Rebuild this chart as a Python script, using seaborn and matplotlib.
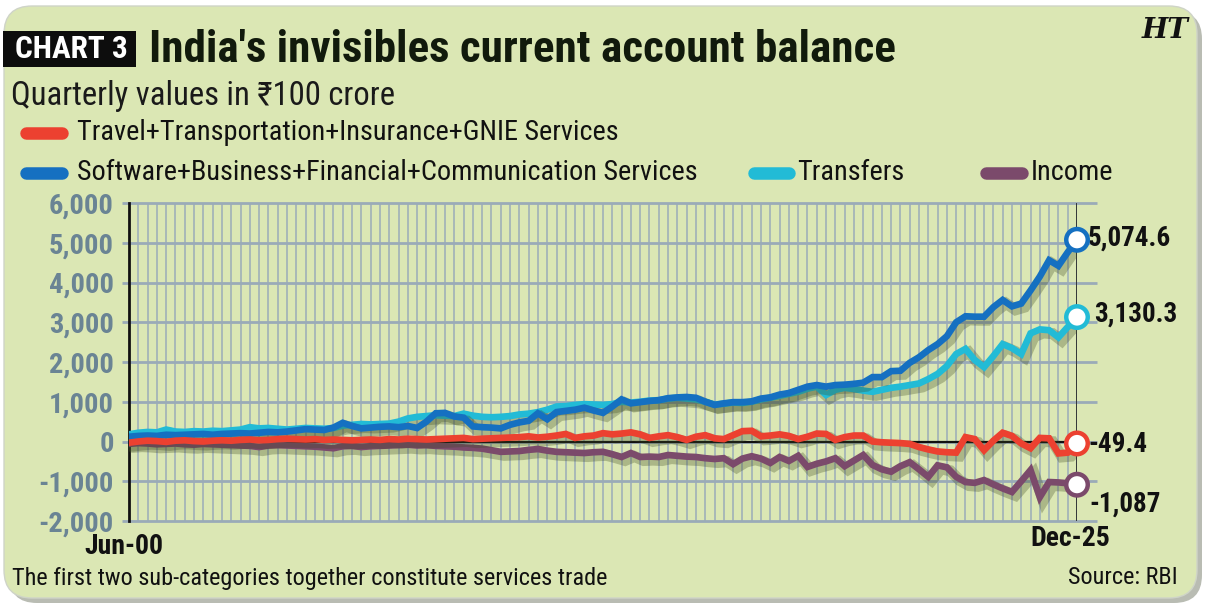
import numpy as np
import pandas as pd
import seaborn as sns
import matplotlib
matplotlib.use("Agg")
import matplotlib.pyplot as plt
from matplotlib import font_manager
from matplotlib import patheffects as pe
from matplotlib.patches import FancyBboxPatch, Rectangle
from matplotlib.lines import Line2D
from matplotlib.transforms import blended_transform_factory

# ---------------- data (₹100 crore, quarterly Jun-00 .. Dec-25) ----------------
quarters = [str(p) for p in pd.period_range("2000Q2", "2025Q4", freq="Q")]
first_label = "Jun-00"
last_label = "Dec-25"

travel = [-30, 0, 20, 10, -10, 20, 30, 10, 0, 20, 30, 20, 40, 50, 30, 40, 60, 70, 60, 50,
          60, 40, 50, 40, 30, 40, 50, 40, 60, 50, 70, 60, 50, 60, 70, 80, 90, 60, 70, 80,
          90, 100, 110, 130, 100, 120, 150, 190, 90, 130, 150, 210, 180, 200, 230, 180, 90, 130, 160, 110,
          40, 120, 160, 80, 60, 160, 260, 270, 130, 150, 180, 140, 60, 120, 200, 190, 40, 110, 150, 150,
          0, -20, -30, -40, -60, -140, -200, -250, -270, -280, 110, 60, -220, 20, 220, 140, -50, -170, 90, 80,
          -300, -280, -49.4]

software = [120, 140, 150, 140, 170, 160, 170, 180, 190, 170, 190, 200, 210, 200, 220, 240, 230, 250, 280, 310,
            300, 290, 350, 470, 390, 330, 350, 370, 380, 360, 390, 340, 500, 710, 720, 630, 600, 380, 360, 350,
            330, 420, 480, 520, 710, 560, 740, 770, 800, 850, 780, 720, 880, 1060, 960, 990, 1020, 1040, 1090, 1110,
            1120, 1100, 1000, 920, 960, 990, 990, 1010, 1080, 1110, 1180, 1220, 1300, 1380, 1420, 1380, 1420, 1430, 1450, 1480,
            1620, 1620, 1770, 1780, 1980, 2120, 2300, 2450, 2650, 3000, 3150, 3140, 3140, 3380, 3560, 3400, 3470, 3800, 4150, 4560,
            4420, 4760, 5074.6]

transfers = [180, 220, 240, 230, 300, 250, 240, 260, 250, 270, 260, 280, 300, 360, 330, 340, 320, 300, 320, 340,
             330, 320, 340, 400, 420, 440, 430, 440, 450, 500, 580, 620, 640, 660, 650, 640, 700, 650, 620, 610,
             620, 640, 680, 700, 740, 800, 880, 890, 920, 940, 930, 920, 940, 1000, 980, 1000, 1030, 1040, 1080, 1100,
             1080, 1060, 1000, 930, 950, 980, 970, 1000, 1060, 1100, 1150, 1200, 1250, 1330, 1380, 1170, 1300, 1350, 1320, 1280,
             1250, 1300, 1350, 1380, 1420, 1460, 1570, 1700, 1900, 2200, 2330, 2050, 1870, 2150, 2450, 2350, 2200, 2720, 2820, 2800,
             2620, 2880, 3130.3]

income = [-60, -40, -50, -70, -60, -50, -70, -80, -60, -70, -80, -90, -100, -110, -140, -100, -90, -100, -110, -120,
          -130, -150, -170, -120, -110, -140, -120, -110, -100, -90, -80, -100, -90, -110, -120, -130, -150, -160, -180, -220,
          -260, -250, -240, -210, -190, -230, -260, -270, -280, -290, -270, -260, -320, -390, -290, -390, -380, -390, -340, -360,
          -380, -390, -420, -440, -420, -570, -430, -370, -430, -540, -390, -490, -360, -640, -560, -500, -420, -620, -480, -340,
          -590, -700, -760, -620, -520, -700, -890, -600, -650, -890, -1020, -1040, -970, -1080, -1180, -1270, -1000, -720, -1400, -1020,
          -1030, -1050, -1087]

series_names = ["Travel+Transportation+Insurance+GNIE Services",
                "Software+Business+Financial+Communication Services",
                "Transfers", "Income"]
end_labels = ["-49.4", "5,074.6", "3,130.3", "-1,087"]
y_ticks = [-2000, -1000, 0, 1000, 2000, 3000, 4000, 5000, 6000]

# ---------------- style ----------------
RED, BLUE, CYAN, PURPLE = "#ec4130", "#1570c1", "#22bbd6", "#7b4a6b"
BG = "#dbe7b4"
GRID = "#9aabb8"
TICKC = "#6a8494"

names = {f.name for f in font_manager.fontManager.ttflist}
def pick(*cands):
    for c in cands:
        if c in names:
            return c
    return "DejaVu Sans"
NARROW = pick("Roboto Condensed", "Liberation Sans Narrow", "DejaVu Sans Condensed", "Liberation Sans")

sns.set_theme(style="white")
plt.rcParams["font.family"] = [NARROW, "DejaVu Sans"]

W, H = 1209, 607
fig = plt.figure(figsize=(W / 100, H / 100), dpi=100)
fig.patch.set_facecolor("white")

def fx(px): return px / W
def fy(py): return 1 - py / H

# rounded panel with shadow
shadow = FancyBboxPatch((0.09, 0.04), 11.93, 5.92, boxstyle="round,pad=0,rounding_size=0.28",
                        transform=fig.dpi_scale_trans, facecolor="#b9bcb3", edgecolor="none", zorder=-3)
panel = FancyBboxPatch((0.04, 0.09), 11.93, 5.92, boxstyle="round,pad=0,rounding_size=0.28",
                       transform=fig.dpi_scale_trans, facecolor=BG, edgecolor="#cfd4c8", linewidth=1.0, zorder=-2)
fig.add_artist(shadow)
fig.add_artist(panel)

# header
fig.add_artist(Rectangle((fx(3), fy(67)), fx(136) - fx(3), fy(31) - fy(67), transform=fig.transFigure,
                         facecolor="#0d0d0d", edgecolor="none"))
fig.text(fx(71), fy(49), "CHART 3", color="white", fontsize=22.5, fontweight="bold", ha="center", va="center")
fig.text(fx(149), fy(50), "India's invisibles current account balance", color="#111a0c", fontsize=32.5,
         fontweight="bold", ha="left", va="center")
fig.text(fx(1165), fy(31), "HT", color="#111111", fontsize=20, fontweight="bold", style="italic",
         family=["DejaVu Serif"], ha="center", va="center")
fig.text(fx(11), fy(96), "Quarterly values in ₹100 crore", color="#1a1a1a", fontsize=23.5, ha="left", va="center")

# legend (manual layout as in reference)
leg = [(RED, 26, 62, 133, series_names[0], 77),
       (BLUE, 26, 62, 173, series_names[1], 77),
       (CYAN, 754, 789, 173, series_names[2], 797),
       (PURPLE, 986, 1022, 173, series_names[3], 1031)]
for col, x0, x1, yy, lab, tx in leg:
    fig.add_artist(Line2D([fx(x0), fx(x1)], [fy(yy), fy(yy)], transform=fig.transFigure,
                          color=col, lw=9, solid_capstyle="round"))
    fig.text(fx(tx), fy(yy), lab, color="#111111", fontsize=20.3, ha="left", va="center")

# footer
fig.text(fx(12), fy(578), "The first two sub-categories together constitute services trade",
         color="#111111", fontsize=17.5, ha="left", va="center")
fig.text(fx(1178), fy(578), "Source: RBI", color="#111111", fontsize=17.5, ha="right", va="center")

# ---------------- axes ----------------
ax = fig.add_axes([fx(129), fy(521), fx(1077) - fx(129), fy(203) - fy(521)])
ax.set_facecolor("none")

n = len(quarters)
df = pd.DataFrame({"q": np.arange(n), series_names[0]: travel, series_names[1]: software,
                   series_names[2]: transfers, series_names[3]: income})
long = df.melt(id_vars="q", var_name="series", value_name="value")
palette = {series_names[0]: RED, series_names[1]: BLUE, series_names[2]: CYAN, series_names[3]: PURPLE}
order = [series_names[2], series_names[1], series_names[3], series_names[0]]

ax.set_xlim(0, n - 1)
ax.set_ylim(-2000, 6000)

# grid
ax.set_xticks(np.arange(n))
ax.set_xticklabels([])
ax.xaxis.grid(True, color=GRID, lw=1.1, zorder=0)
ax.set_axisbelow(True)
ax.hlines(y_ticks, -0.75, n - 1 + 2.15, color=GRID, lw=2.0, clip_on=False, zorder=0.5)
ax.axhline(0, color="#111111", lw=1.6, zorder=1)
ax.axvline(n - 1, color="#111111", lw=1.8, zorder=1)

sns.lineplot(data=long, x="q", y="value", hue="series", hue_order=order, palette=palette,
             linewidth=4.8, legend=False, ax=ax, zorder=3)
for ln in ax.lines[-4:]:
    ln.set_solid_joinstyle("miter")
    ln.set_path_effects([pe.SimpleLineShadow(offset=(2.5, -2.5), shadow_color="#3c4a20", alpha=0.3, linewidth=8),
                         pe.Normal()])
    ln.set_zorder(3)

ends = pd.DataFrame({"q": [n - 1] * 4, "value": [travel[-1], software[-1], transfers[-1], income[-1]],
                     "series": series_names})
sns.scatterplot(data=ends, x="q", y="value", hue="series", palette=palette, legend=False, ax=ax,
                s=240, facecolor="white", zorder=5, clip_on=False)
coll = ax.collections[-1]
coll.set_facecolor("white")
coll.set_edgecolor([palette[s] for s in series_names])
coll.set_linewidth(3.2)
coll.set_clip_on(False)

offsets = {0: (8, -1), 1: (7.5, 1), 2: (12.5, 2), 3: (9, -14)}
for k in range(4):
    ax.annotate(end_labels[k], (n - 1, ends["value"][k]), xytext=offsets[k], textcoords="offset points",
                ha="left", va="center", fontsize=19.5, fontweight="bold", color="#111111", annotation_clip=False)

ax.set_yticks(y_ticks)
ax.set_yticklabels([f"{v:,}" for v in y_ticks], color=TICKC, fontweight="bold", fontsize=20.5)
ax.tick_params(axis="y", length=0, pad=11)
ax.tick_params(axis="x", length=0)
ax.set_xlabel("")
ax.set_ylabel("")
for s in ["top", "bottom", "right"]:
    ax.spines[s].set_visible(False)
ax.spines["left"].set_color("#111111")
ax.spines["left"].set_linewidth(2)

tr = blended_transform_factory(ax.transData, fig.transFigure)
ax.text(-0.6, fy(546), first_label, transform=tr, ha="center", va="center", fontsize=20,
        fontweight="bold", color="#111111")
ax.text(n - 1 - 0.7, fy(538), last_label, transform=tr, ha="center", va="center", fontsize=20,
        fontweight="bold", color="#111111")

fig.savefig("out.png", dpi=100, facecolor="white")
